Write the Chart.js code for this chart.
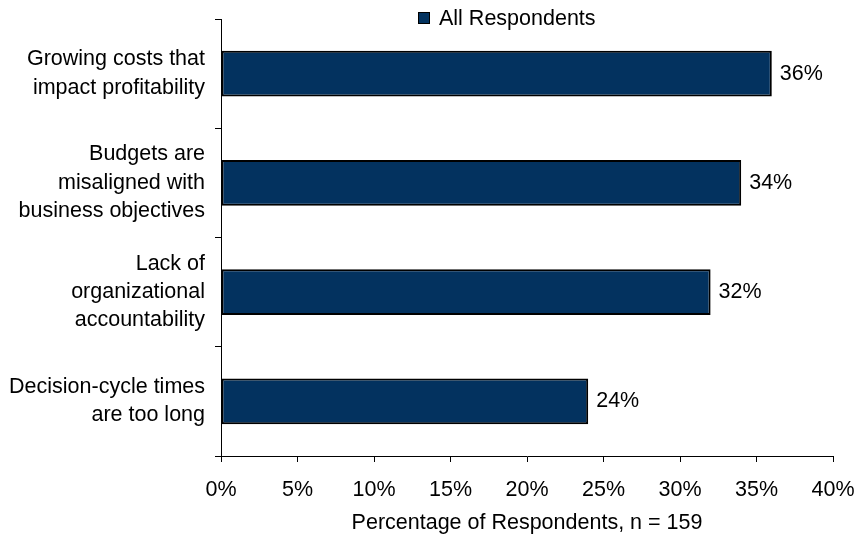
<!DOCTYPE html>
<html lang="en">
<head>
    <meta charset="UTF-8">
    <title>All Respondents</title>
    <style>
        html, body {
            margin: 0;
            padding: 0;
            background: #ffffff;
        }
        #wrap {
            width: 854px;
            height: 540px;
        }
    </style>
    <script src="https://cdn.jsdelivr.net/npm/chart.js"></script>
</head>
<body>
    <div id="wrap"><canvas id="chart" width="854" height="540"></canvas></div>

    <script>
        const categories = [
            ['Growing costs that', 'impact profitability'],
            ['Budgets are', 'misaligned with', 'business objectives'],
            ['Lack of', 'organizational', 'accountability'],
            ['Decision-cycle times', 'are too long']
        ];
        const seriesName = 'All Respondents';
        const values = [36, 34, 32, 24];
        const xTicks = [0, 5, 10, 15, 20, 25, 30, 35, 40];
        const xTitle = 'Percentage of Respondents, n = 159';

        const FONT = "'Liberation Sans', Arial, sans-serif";
        const FS = 21.5;
        const BAR = '#03325f';

        // value labels at the bar ends
        const valueLabels = {
            id: 'valueLabels',
            afterDatasetsDraw(chart) {
                const ctx = chart.ctx;
                const meta = chart.getDatasetMeta(0);
                ctx.save();
                ctx.font = FS + 'px ' + FONT;
                ctx.fillStyle = '#000';
                ctx.textAlign = 'left';
                ctx.textBaseline = 'middle';
                meta.data.forEach((bar, i) => {
                    ctx.fillText(values[i] + '%', bar.x + 8, bar.y);
                });
                ctx.restore();
            }
        };

        // legend drawn by hand so it sits where the original has it
        const topLegend = {
            id: 'topLegend',
            afterDraw(chart) {
                const ctx = chart.ctx;
                const a = chart.chartArea;
                ctx.save();
                ctx.font = FS + 'px ' + FONT;
                const w = ctx.measureText(seriesName).width;
                const box = 12;
                const total = box + 9 + w;
                const x0 = Math.round((a.left + a.right) / 2 - total / 2 - 20);
                const y = 18;
                ctx.fillStyle = BAR;
                ctx.fillRect(x0, y - box / 2, box, box);
                ctx.strokeStyle = '#000';
                ctx.lineWidth = 1;
                ctx.strokeRect(x0 + 0.5, y - box / 2 + 0.5, box - 1, box - 1);
                ctx.fillStyle = '#000';
                ctx.textBaseline = 'middle';
                ctx.fillText(seriesName, x0 + box + 9, y + 1);
                ctx.restore();
            }
        };

        new Chart(document.getElementById('chart'), {
            type: 'bar',
            data: {
                labels: categories,
                datasets: [{
                    label: seriesName,
                    data: values,
                    backgroundColor: BAR,
                    borderColor: '#000',
                    borderWidth: 2,
                    borderSkipped: false,
                    barPercentage: 0.42,
                    categoryPercentage: 1
                }]
            },
            options: {
                indexAxis: 'y',
                responsive: false,
                animation: false,
                layout: {
                    padding: { top: 19, right: 21, left: 0, bottom: 6 }
                },
                plugins: {
                    legend: { display: false },
                    tooltip: { enabled: false }
                },
                scales: {
                    x: {
                        min: 0,
                        max: 40,
                        afterBuildTicks(axis) {
                            axis.ticks = xTicks.map(v => ({ value: v }));
                        },
                        afterFit(axis) {
                            axis.paddingLeft = 0;
                            axis.paddingRight = 0;
                            axis.height = 78;
                        },
                        ticks: {
                            color: '#000',
                            font: { family: FONT, size: FS, lineHeight: 1 },
                            padding: 17,
                            maxRotation: 0,
                            callback: v => v + '%'
                        },
                        grid: {
                            drawOnChartArea: false,
                            drawTicks: true,
                            tickLength: 6,
                            color: '#000'
                        },
                        border: { display: true, color: '#000', width: 1 },
                        title: {
                            display: true,
                            text: xTitle,
                            color: '#000',
                            font: { family: FONT, size: FS, lineHeight: 1 },
                            padding: { top: 0, bottom: 0 }
                        }
                    },
                    y: {
                        afterFit(axis) {
                            axis.paddingTop = 0;
                            axis.paddingBottom = 0;
                            axis.width = 221;
                        },
                        ticks: {
                            color: '#000',
                            font: { family: FONT, size: FS, lineHeight: 1.32 },
                            padding: 10
                        },
                        grid: {
                            offset: true,
                            drawOnChartArea: false,
                            drawTicks: true,
                            tickLength: 6,
                            color: '#000'
                        },
                        border: { display: true, color: '#000', width: 1 }
                    }
                }
            },
            plugins: [valueLabels, topLegend]
        });
    </script>
</body>
</html>
